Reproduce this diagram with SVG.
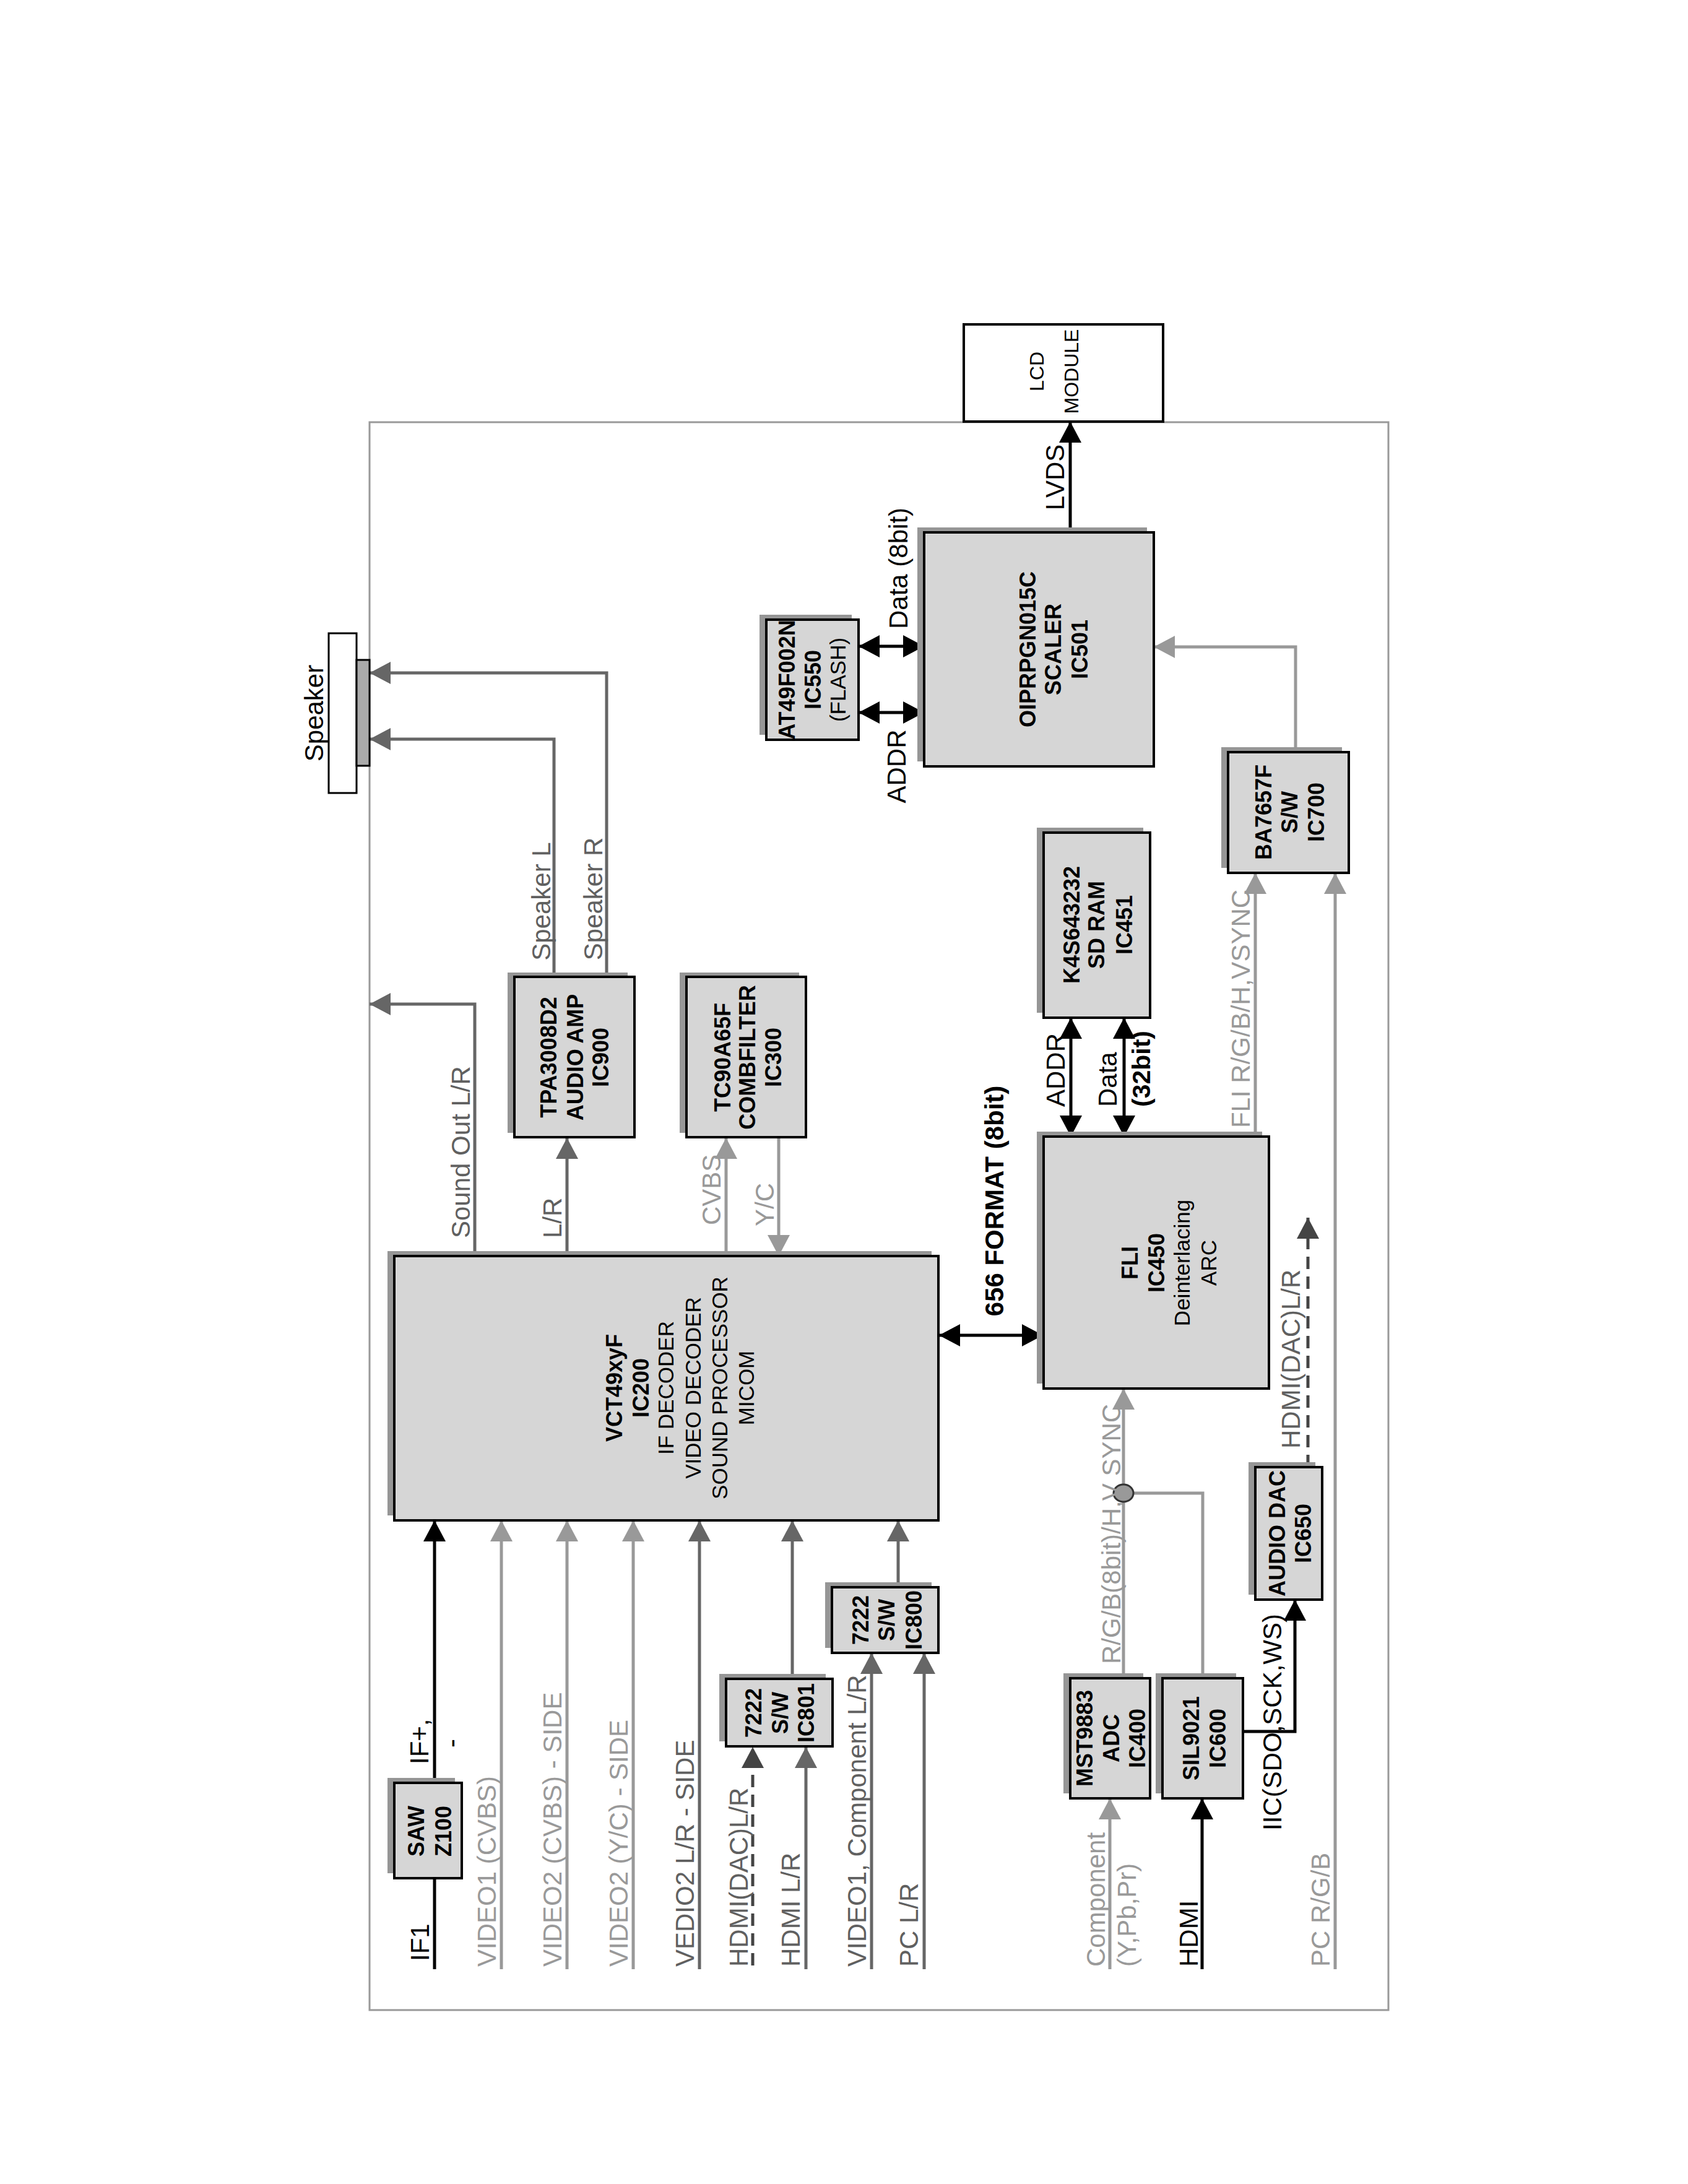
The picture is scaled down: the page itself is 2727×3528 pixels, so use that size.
<svg xmlns="http://www.w3.org/2000/svg" width="2727" height="3528" viewBox="0 0 2727 3528">
<style>
text{font-family:"Liberation Sans",Arial,sans-serif;text-anchor:middle}
.st{text-anchor:start}
.b{font-weight:bold;font-size:36px;fill:#000}
.n{font-size:35px;fill:#000}
.lb{font-size:42px}
.k{fill:#000}.d{fill:#606060}.l{fill:#999}
.box{fill:#d6d6d6;stroke:#000;stroke-width:4}
.sh{fill:#969696}
.wk{stroke:#000;stroke-width:5;fill:none}
.wd{stroke:#666;stroke-width:5;fill:none}
.wl{stroke:#999;stroke-width:5;fill:none}
.wx{stroke:#444;stroke-width:5;fill:none;stroke-dasharray:20 12}
</style>
<defs>
<marker id="ak" viewBox="0 0 34 36" refX="34" refY="18" markerWidth="34" markerHeight="36" markerUnits="userSpaceOnUse" orient="auto-start-reverse"><path d="M0,0 L34,18 L0,36 z" fill="#000"/></marker>
<marker id="ad" viewBox="0 0 34 36" refX="34" refY="18" markerWidth="34" markerHeight="36" markerUnits="userSpaceOnUse" orient="auto-start-reverse"><path d="M0,0 L34,18 L0,36 z" fill="#666"/></marker>
<marker id="al" viewBox="0 0 34 36" refX="34" refY="18" markerWidth="34" markerHeight="36" markerUnits="userSpaceOnUse" orient="auto-start-reverse"><path d="M0,0 L34,18 L0,36 z" fill="#999"/></marker>
<marker id="ax" viewBox="0 0 34 36" refX="34" refY="18" markerWidth="34" markerHeight="36" markerUnits="userSpaceOnUse" orient="auto-start-reverse"><path d="M0,0 L34,18 L0,36 z" fill="#444"/></marker>
</defs>
<rect width="2727" height="3528" fill="#fff"/>
<rect id="frame" x="597" y="682" width="1646" height="2565" fill="none" stroke="#999" stroke-width="3"/>

<g id="connectors">
<path class="wd" d="M980 1578 V1087 H597" marker-end="url(#ad)"/>
<path class="wd" d="M895 1578 V1194 H597" marker-end="url(#ad)"/>
<path class="wd" d="M767 2029 V1622 H597" marker-end="url(#ad)"/>
<path class="wd" d="M916 2029 V1838" marker-end="url(#ad)"/>
<path class="wl" d="M1173 2029 V1838" marker-end="url(#al)"/>
<path class="wl" d="M1258 1838 V2029" marker-end="url(#al)"/>
<path class="wk" d="M702 3181 V3034"/>
<path class="wk" d="M702 2880 V2456" marker-end="url(#ak)"/>
<path class="wl" d="M810 3181 V2456" marker-end="url(#al)"/>
<path class="wl" d="M916 3181 V2456" marker-end="url(#al)"/>
<path class="wl" d="M1023 3181 V2456" marker-end="url(#al)"/>
<path class="wd" d="M1130 3181 V2456" marker-end="url(#ad)"/>
<path class="wx" d="M1216 3175 V2822" marker-end="url(#ax)"/>
<path class="wd" d="M1302 3181 V2822" marker-end="url(#ad)"/>
<path class="wd" d="M1280 2712 V2456" marker-end="url(#ad)"/>
<path class="wd" d="M1408 3181 V2670" marker-end="url(#ad)"/>
<path class="wd" d="M1493 3181 V2670" marker-end="url(#ad)"/>
<path class="wd" d="M1451 2564 V2456" marker-end="url(#ad)"/>
<path class="wk" d="M1517 2157 H1685" marker-start="url(#ak)" marker-end="url(#ak)"/>
<path class="wk" d="M1730 1644 V1836" marker-start="url(#ak)" marker-end="url(#ak)"/>
<path class="wk" d="M1816 1644 V1836" marker-start="url(#ak)" marker-end="url(#ak)"/>
<path class="wk" d="M1387 1044 H1493" marker-start="url(#ak)" marker-end="url(#ak)"/>
<path class="wk" d="M1387 1151 H1493" marker-start="url(#ak)" marker-end="url(#ak)"/>
<path class="wk" d="M1729 860 V681" marker-end="url(#ak)"/>
<path class="wl" d="M2028 1836 V1410" marker-end="url(#al)"/>
<path class="wl" d="M2157 3181 V1410" marker-end="url(#al)"/>
<path class="wl" d="M2093 1215 V1045 H1864" marker-end="url(#al)"/>
<path class="wl" d="M1815 2711 V2243" marker-end="url(#al)"/>
<path class="wl" d="M1943 2711 V2412 H1815"/>
<ellipse cx="1815" cy="2412" rx="16" ry="14" fill="#999" stroke="#333" stroke-width="3"/>
<path class="wl" d="M1793 3181 V2905" marker-end="url(#al)"/>
<path class="wk" d="M1942 3181 V2905" marker-end="url(#ak)"/>
<path class="wk" d="M2008 2797 H2092 V2584" marker-end="url(#ak)"/>
<path class="wx" d="M2113 2370 V1967" marker-end="url(#ax)"/>
</g>

<g id="labels" class="lb">
<text class="lb d" transform="translate(889,1456) rotate(-90)">Speaker L</text>
<text class="lb d" transform="translate(973,1452) rotate(-90)">Speaker R</text>
<text class="lb d st" transform="translate(759,2000) rotate(-90)">Sound Out L/R</text>
<text class="lb d st" transform="translate(907,2000) rotate(-90)">L/R</text>
<text class="lb l st" transform="translate(1164,1979) rotate(-90)">CVBS</text>
<text class="lb l st" transform="translate(1250,1981) rotate(-90)">Y/C</text>
<text class="lb k st" transform="translate(693,3168) rotate(-90)">IF1</text>
<text class="lb k st" transform="translate(692,2850) rotate(-90)">IF+,</text>
<text class="lb k" transform="translate(744,2816) rotate(-90)">-</text>
<text class="lb l st" transform="translate(801,3177) rotate(-90)">VIDEO1 (CVBS)</text>
<text class="lb l st" transform="translate(907,3177) rotate(-90)">VIDEO2 (CVBS) - SIDE</text>
<text class="lb l st" transform="translate(1014,3177) rotate(-90)">VIDEO2 (Y/C) - SIDE</text>
<text class="lb d st" transform="translate(1121,3177) rotate(-90)">VEDIO2 L/R - SIDE</text>
<text class="lb d st" transform="translate(1208,3177) rotate(-90)">HDMI(DAC)L/R</text>
<text class="lb d st" transform="translate(1292,3177) rotate(-90)">HDMI L/R</text>
<text class="lb d st" transform="translate(1399,3177) rotate(-90)">VIDEO1, Component L/R</text>
<text class="lb d st" transform="translate(1483,3177) rotate(-90)">PC L/R</text>
<text class="lb k" style="font-weight:bold" transform="translate(1621,1940) rotate(-90)">656 FORMAT (8bit)</text>
<text class="lb k st" transform="translate(1720,1788) rotate(-90)">ADDR</text>
<text class="lb k st" transform="translate(1804,1788) rotate(-90)">Data</text>
<text class="lb k st" style="font-weight:bold;font-size:41px" transform="translate(1858,1788) rotate(-90)">(32bit)</text>
<text class="lb l st" transform="translate(2019,1822) rotate(-90)">FLI R/G/B/H,VSYNC</text>
<text class="lb k" transform="translate(1719,771) rotate(-90)">LVDS</text>
<text class="lb k" transform="translate(1466,918) rotate(-90)">Data (8bit)</text>
<text class="lb k" transform="translate(1463,1238) rotate(-90)">ADDR</text>
<text class="lb l st" transform="translate(1810,2688) rotate(-90)">R/G/B(8bit)/H,V SYNC</text>
<text class="lb l st" transform="translate(1785,3177) rotate(-90)">Component</text>
<text class="lb l st" transform="translate(1835,3177) rotate(-90)">(Y,Pb,Pr)</text>
<text class="lb k st" transform="translate(1935,3177) rotate(-90)">HDMI</text>
<text class="lb k st" transform="translate(2070,2957) rotate(-90)">IIC(SDO,SCK,WS)</text>
<text class="lb d st" transform="translate(2100,2340) rotate(-90)">HDMI(DAC)L/R</text>
<text class="lb l st" transform="translate(2148,3177) rotate(-90)">PC R/G/B</text>
</g>

<g id="speaker">
<rect x="531" y="1023" width="45" height="258" fill="#fff" stroke="#000" stroke-width="3"/>
<rect x="576" y="1066" width="21" height="171" fill="#aaa" stroke="#000" stroke-width="3"/>
<text class="lb k" transform="translate(522,1152) rotate(-90)">Speaker</text>
</g>

<g id="lcd">
<rect x="1557" y="524" width="322" height="157" fill="#fff" stroke="#000" stroke-width="4"/>
<text class="k" style="font-size:32px" transform="translate(1686,600) rotate(-90)">LCD</text>
<text class="k" style="font-size:32px" transform="translate(1742,600) rotate(-90)">MODULE</text>
</g>

<g id="saw">
<rect class="sh" x="626" y="2872" width="109" height="154"/>
<rect class="box" x="637" y="2880" width="109" height="154"/>
<text class="b" transform="translate(685,2958) rotate(-90)">SAW</text>
<text class="b" transform="translate(729,2958) rotate(-90)">Z100</text>
</g>

<g id="ic200">
<rect class="sh" x="626" y="2021" width="879" height="427"/>
<rect class="box" x="637" y="2029" width="879" height="427"/>
<text class="b" transform="translate(1005,2242) rotate(-90)">VCT49xyF</text>
<text class="b" transform="translate(1048,2242) rotate(-90)">IC200</text>
<text class="n" transform="translate(1088,2242) rotate(-90)">IF DECODER</text>
<text class="n" transform="translate(1132,2242) rotate(-90)">VIDEO DECODER</text>
<text class="n" transform="translate(1175,2242) rotate(-90)">SOUND PROCESSOR</text>
<text class="n" transform="translate(1218,2242) rotate(-90)">MICOM</text>
</g>

<g id="ic801">
<rect class="sh" x="1162" y="2704" width="172" height="109"/>
<rect class="box" x="1173" y="2712" width="172" height="109"/>
<text class="b" transform="translate(1230,2767) rotate(-90)">7222</text>
<text class="b" transform="translate(1273,2767) rotate(-90)">S/W</text>
<text class="b" transform="translate(1315,2767) rotate(-90)">IC801</text>
</g>

<g id="ic800">
<rect class="sh" x="1333" y="2556" width="172" height="106"/>
<rect class="box" x="1344" y="2564" width="172" height="106"/>
<text class="b" transform="translate(1403,2617) rotate(-90)">7222</text>
<text class="b" transform="translate(1445,2617) rotate(-90)">S/W</text>
<text class="b" transform="translate(1489,2617) rotate(-90)">IC800</text>
</g>

<g id="ic900">
<rect class="sh" x="820" y="1571" width="194" height="259"/>
<rect class="box" x="831" y="1578" width="194" height="259"/>
<text class="b" transform="translate(899,1708) rotate(-90)">TPA3008D2</text>
<text class="b" transform="translate(942,1708) rotate(-90)">AUDIO AMP</text>
<text class="b" transform="translate(983,1708) rotate(-90)">IC900</text>
</g>

<g id="ic300">
<rect class="sh" x="1098" y="1571" width="193" height="259"/>
<rect class="box" x="1109" y="1578" width="193" height="259"/>
<text class="b" transform="translate(1180,1708) rotate(-90)">TC90A65F</text>
<text class="b" transform="translate(1220,1708) rotate(-90)">COMBFILTER</text>
<text class="b" transform="translate(1262,1708) rotate(-90)">IC300</text>
</g>

<g id="ic550">
<rect class="sh" x="1227" y="993" width="149" height="194"/>
<rect class="box" x="1238" y="1001" width="149" height="194"/>
<text class="b" transform="translate(1284,1098) rotate(-90)">AT49F002N</text>
<text class="b" transform="translate(1326,1098) rotate(-90)">IC550</text>
<text class="n" transform="translate(1366,1098) rotate(-90)">(FLASH)</text>
</g>

<g id="ic501">
<rect class="sh" x="1482" y="852" width="371" height="378"/>
<rect class="box" x="1493" y="860" width="371" height="378"/>
<text class="b" transform="translate(1673,1049) rotate(-90)">OIPRPGN015C</text>
<text class="b" transform="translate(1714,1049) rotate(-90)">SCALER</text>
<text class="b" transform="translate(1757,1049) rotate(-90)">IC501</text>
</g>

<g id="ic451">
<rect class="sh" x="1675" y="1337" width="172" height="299"/>
<rect class="box" x="1686" y="1345" width="172" height="299"/>
<text class="b" transform="translate(1744,1494) rotate(-90)">K4S643232</text>
<text class="b" transform="translate(1784,1494) rotate(-90)">SD RAM</text>
<text class="b" transform="translate(1829,1494) rotate(-90)">IC451</text>
</g>

<g id="ic450">
<rect class="sh" x="1675" y="1828" width="364" height="407"/>
<rect class="box" x="1686" y="1836" width="364" height="407"/>
<text class="b" transform="translate(1838,2040) rotate(-90)">FLI</text>
<text class="b" transform="translate(1881,2040) rotate(-90)">IC450</text>
<text class="n" transform="translate(1922,2040) rotate(-90)">Deinterlacing</text>
<text class="n" transform="translate(1965,2040) rotate(-90)">ARC</text>
</g>

<g id="ic700">
<rect class="sh" x="1973" y="1207" width="195" height="195"/>
<rect class="box" x="1984" y="1215" width="195" height="195"/>
<text class="b" transform="translate(2054,1312) rotate(-90)">BA7657F</text>
<text class="b" transform="translate(2096,1312) rotate(-90)">S/W</text>
<text class="b" transform="translate(2139,1312) rotate(-90)">IC700</text>
</g>

<g id="ic400">
<rect class="sh" x="1718" y="2703" width="129" height="194"/>
<rect class="box" x="1729" y="2711" width="129" height="194"/>
<text class="b" transform="translate(1765,2808) rotate(-90)">MST9883</text>
<text class="b" transform="translate(1808,2808) rotate(-90)">ADC</text>
<text class="b" transform="translate(1850,2808) rotate(-90)">IC400</text>
</g>

<g id="ic600">
<rect class="sh" x="1867" y="2703" width="130" height="194"/>
<rect class="box" x="1878" y="2711" width="130" height="194"/>
<text class="b" transform="translate(1937,2808) rotate(-90)">SIL9021</text>
<text class="b" transform="translate(1980,2808) rotate(-90)">IC600</text>
</g>

<g id="ic650">
<rect class="sh" x="2017" y="2362" width="108" height="214"/>
<rect class="box" x="2028" y="2370" width="108" height="214"/>
<text class="b" transform="translate(2076,2477) rotate(-90)">AUDIO DAC</text>
<text class="b" transform="translate(2118,2477) rotate(-90)">IC650</text>
</g>
</svg>
